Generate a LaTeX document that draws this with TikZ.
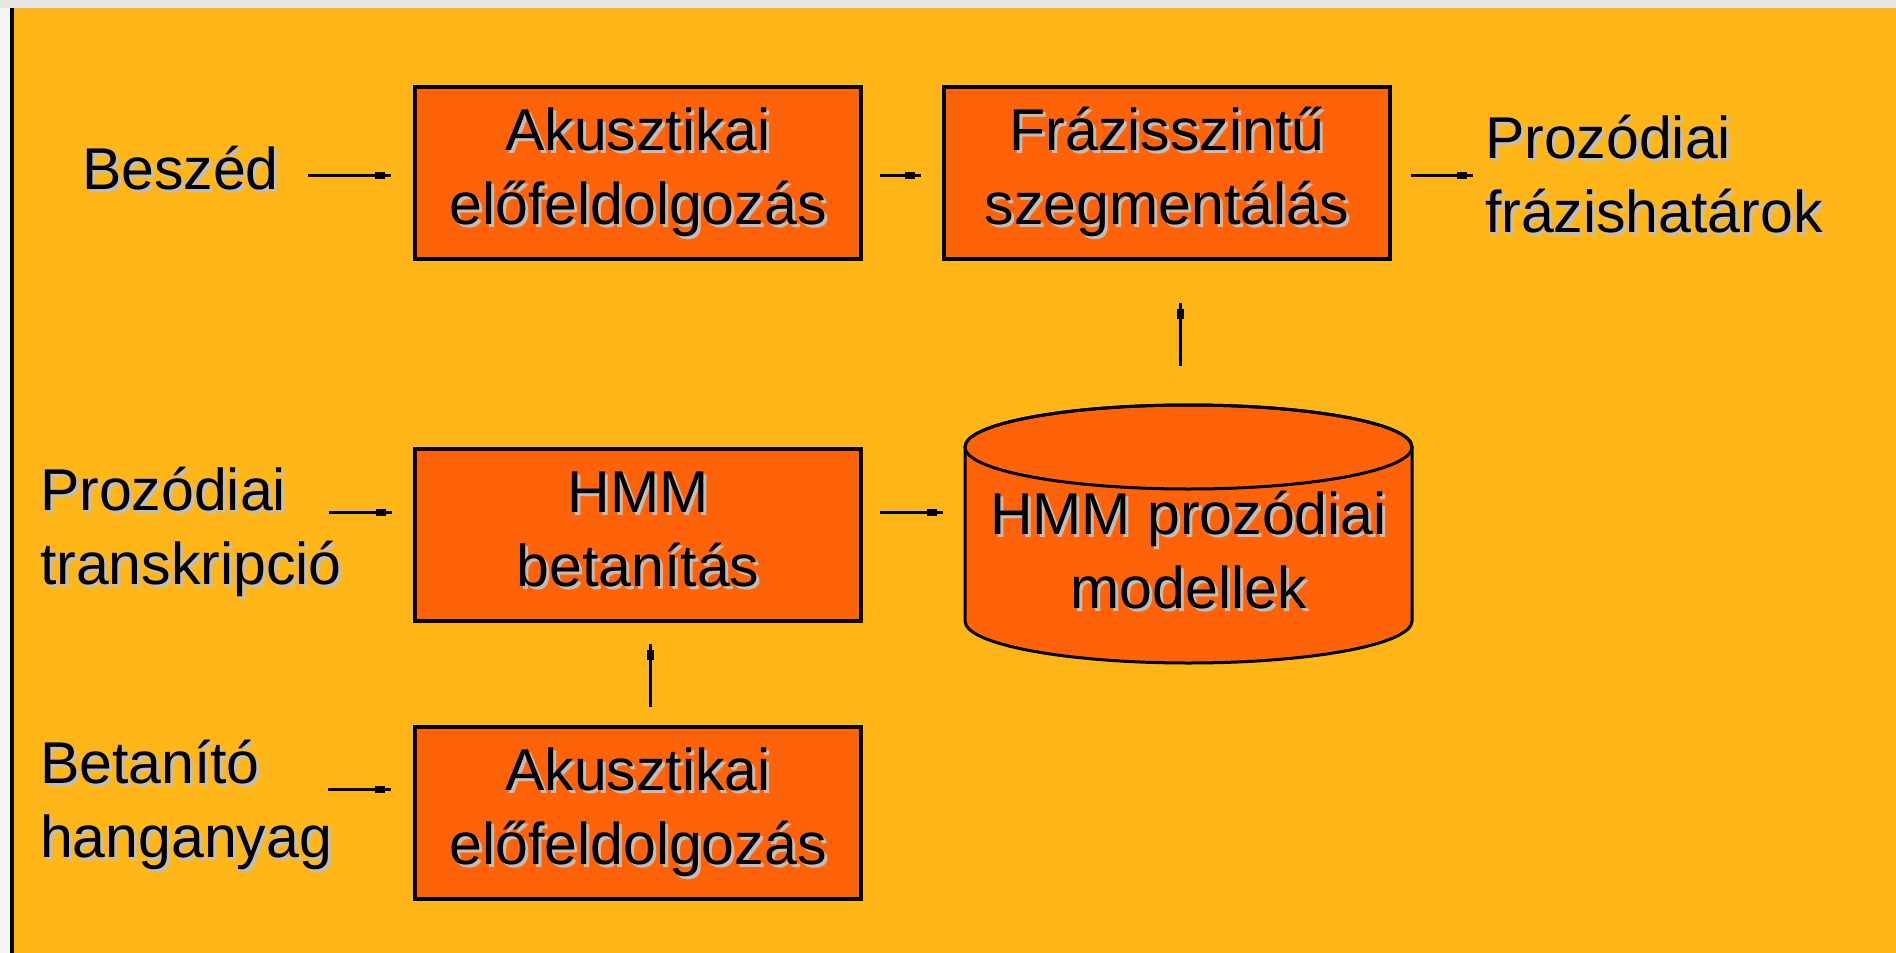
\documentclass[tikz,border=0pt]{standalone}
\usepackage{fontspec}
\setmainfont{Liberation Sans}
\usetikzlibrary{calc,decorations.markings}
\definecolor{bgorange}{RGB}{255,182,25}
\definecolor{boxorange}{RGB}{255,99,9}
\definecolor{shadowgrey}{RGB}{190,190,190}
\definecolor{topgrey}{RGB}{230,230,230}
\definecolor{leftgrey}{RGB}{245,245,245}
\newcommand\bigf{\fontsize{59pt}{74pt}\selectfont}
\newcommand\sh[1]{\strut\makebox[0pt][l]{\hspace{3pt}\raisebox{-3pt}{\color{shadowgrey}#1}}#1}
\begin{document}
\begin{tikzpicture}[x=1pt,y=-1pt,
  box/.style={draw=black, line width=4pt, fill=boxorange, minimum width=446pt,
    minimum height=172pt, inner sep=0pt, outer sep=0pt, align=center, font=\bigf},
  lbl/.style={inner sep=0pt, outer sep=0pt, align=left, anchor=west, font=\bigf},
  ctxt/.style={inner sep=0pt, outer sep=0pt, align=center, font=\bigf},
  arr/.style={line width=3pt, postaction={decorate},
    decoration={markings, mark=at position -11pt with {\fill[black] (-5,-3.5) rectangle (5,3.5);}}},
  cylline/.style={draw=black, line width=3pt}]
\useasboundingbox (0,0) rectangle (1896,953);
\fill[leftgrey] (0,0) rectangle (1896,953);
\fill[topgrey] (0,0) rectangle (1896,8);
\fill[bgorange] (14,8) rectangle (1896,953);
\fill[black] (10,8) rectangle (14,953);

% cylinder
\path[cylline, fill=boxorange] (965,447) -- (965,621)
  arc[start angle=180, end angle=0, x radius=223.5, y radius=42] -- (1412,447)
  arc[start angle=0, end angle=-180, x radius=223.5, y radius=42] -- cycle;
\draw[cylline] (1188.5,447) ellipse [x radius=223.5, y radius=42];

\node[lbl] (besz) at (82,174.2) {\sh{Beszéd}};
\node[box] (a1) at (638,173) {\sh{Akusztikai}\\\sh{előfeldolgozás}};
\node[box] (f) at (1167,173) {\sh{Frázisszintű}\\\sh{szegmentálás}};
\node[lbl] (out) at (1485,180.2) {\sh{Prozódiai}\\\sh{frázishatárok}};
\node[lbl] (prt) at (40,532.2) {\sh{Prozódiai}\\\sh{transkripció}};
\node[box] (hmm) at (638,535) {\sh{HMM}\\\sh{betanítás}};
\node[inner sep=0pt, outer sep=0pt, minimum width=447pt, minimum height=258pt] (cyl) at (1188.5,534) {};
\node[ctxt] (cylt) at (1188.5,557) {\sh{HMM prozódiai}\\\sh{modellek}};
\node[lbl] (bet) at (40,805.2) {\sh{Betanító}\\\sh{hanganyag}};
\node[box] (a2) at (638,812.5) {\sh{Akusztikai}\\\sh{előfeldolgozás}};

\draw[arr] ($(besz.east |- a1.west)+(29,2)$) -- ($(a1.west)+(-24,2)$);
\draw[arr] ($(a1.east)+(19,2)$) -- ($(f.west)+(-23,2)$);
\draw[arr] ($(f.east)+(21,2)$) -- ($(f.east -| out.west)+(-12,2)$);
\draw[arr] ($(prt.east |- hmm.west)+(-13,-23)$) -- ($(hmm.west)+(-23,-23)$);
\draw[arr] ($(hmm.east)+(19,-23)$) -- ($(cyl.west |- hmm.east)+(-22,-23)$);
\draw[arr] ($(cyl.north)+(-8.5,-39)$) -- ($(cyl.north |- f.south)+(-8.5,44)$);
\draw[arr] ($(a2.north)+(12.5,-20)$) -- ($(hmm.south)+(12.5,23)$);
\draw[arr] ($(bet.east |- a2.west)+(-4,-23)$) -- ($(a2.west)+(-24,-23)$);
\end{tikzpicture}
\end{document}
